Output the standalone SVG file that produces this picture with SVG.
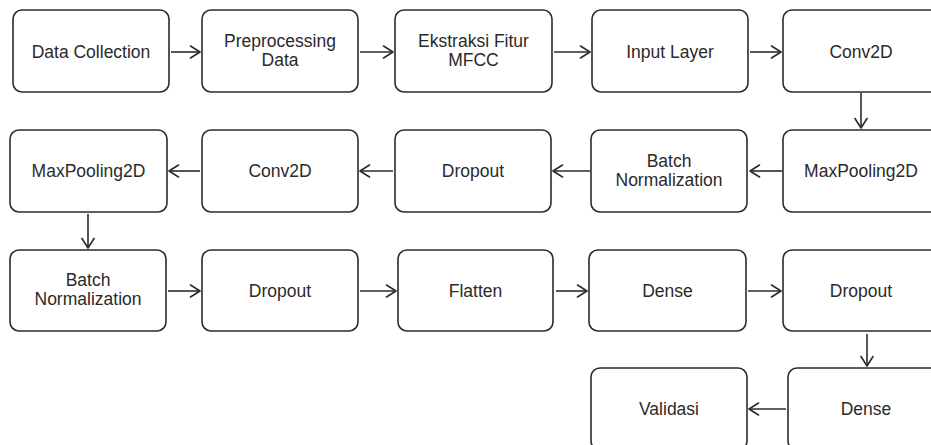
<svg xmlns="http://www.w3.org/2000/svg" width="931" height="445" viewBox="0 0 931 445">
<defs>
<style>
.box{fill:#fff;stroke:#2b2b2b;stroke-width:1.6}
.t{font-family:"Liberation Sans",Arial,sans-serif;font-size:17.5px;fill:#2a2a2a;text-anchor:middle}
.c{fill:none;stroke:#2b2b2b;stroke-width:1.6;marker-end:url(#ah)}
</style>
<marker id="ah" viewBox="0 0 12 14" refX="11" refY="7" markerWidth="12" markerHeight="14" markerUnits="userSpaceOnUse" orient="auto">
<path d="M1.5,1 L11,7 L1.5,13" fill="none" stroke="#2b2b2b" stroke-width="1.6" stroke-linecap="round" stroke-linejoin="round"/>
</marker>
</defs>
<rect width="931" height="445" fill="#fff"/>

<g id="connectors">
<path class="c" d="M171,52 H200"/>
<path class="c" d="M360,52 H393"/>
<path class="c" d="M554,52 H590"/>
<path class="c" d="M750,52 H781"/>
<path class="c" d="M861,93 V128"/>
<path class="c" d="M782,171 H750"/>
<path class="c" d="M590,171 H553"/>
<path class="c" d="M393,171 H360"/>
<path class="c" d="M200,171 H169"/>
<path class="c" d="M88,214 V248"/>
<path class="c" d="M168,291 H200"/>
<path class="c" d="M360,291 H396"/>
<path class="c" d="M556,291 H587"/>
<path class="c" d="M748,291 H781"/>
<path class="c" d="M867,334 V366"/>
<path class="c" d="M786,409 H749"/>
</g>

<g id="n1"><rect class="box" x="13" y="10" width="156" height="82" rx="9"/><text class="t" x="91" y="58">Data Collection</text></g>
<g id="n2"><rect class="box" x="202" y="10" width="156" height="82" rx="9"/><text class="t" x="280" y="47">Preprocessing</text><text class="t" x="280" y="66">Data</text></g>
<g id="n3"><rect class="box" x="395" y="10" width="157" height="82" rx="9"/><text class="t" x="473.5" y="47">Ekstraksi Fitur</text><text class="t" x="473.5" y="66">MFCC</text></g>
<g id="n4"><rect class="box" x="592" y="10" width="156" height="82" rx="9"/><text class="t" x="670" y="58">Input Layer</text></g>
<g id="n5"><rect class="box" x="783" y="10" width="156" height="82" rx="9"/><text class="t" x="861" y="58">Conv2D</text></g>

<g id="n6"><rect class="box" x="783" y="130" width="156" height="82" rx="9"/><text class="t" x="861" y="177">MaxPooling2D</text></g>
<g id="n7"><rect class="box" x="591" y="130" width="156" height="82" rx="9"/><text class="t" x="669" y="167">Batch</text><text class="t" x="669" y="186">Normalization</text></g>
<g id="n8"><rect class="box" x="395" y="130" width="156" height="82" rx="9"/><text class="t" x="473" y="177">Dropout</text></g>
<g id="n9"><rect class="box" x="202" y="130" width="156" height="82" rx="9"/><text class="t" x="280" y="177">Conv2D</text></g>
<g id="n10"><rect class="box" x="10" y="130" width="157" height="82" rx="9"/><text class="t" x="88.5" y="177">MaxPooling2D</text></g>

<g id="n11"><rect class="box" x="10" y="250" width="156" height="81" rx="9"/><text class="t" x="88" y="286">Batch</text><text class="t" x="88" y="305">Normalization</text></g>
<g id="n12"><rect class="box" x="202" y="250" width="156" height="81" rx="9"/><text class="t" x="280" y="297">Dropout</text></g>
<g id="n13"><rect class="box" x="398" y="250" width="155" height="81" rx="9"/><text class="t" x="475.5" y="297">Flatten</text></g>
<g id="n14"><rect class="box" x="589" y="250" width="157" height="81" rx="9"/><text class="t" x="667.5" y="297">Dense</text></g>
<g id="n15"><rect class="box" x="783" y="250" width="156" height="81" rx="9"/><text class="t" x="861" y="297">Dropout</text></g>

<g id="n16"><rect class="box" x="788" y="368" width="156" height="82" rx="9"/><text class="t" x="866" y="415">Dense</text></g>
<g id="n17"><rect class="box" x="591" y="368" width="156" height="82" rx="9"/><text class="t" x="669" y="415">Validasi</text></g>
</svg>
